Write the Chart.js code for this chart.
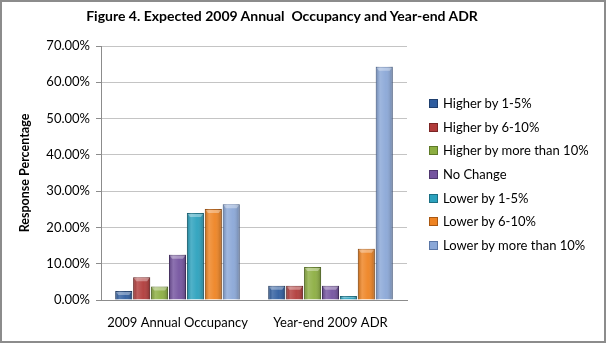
<!DOCTYPE html>
<html>
<head>
<meta charset="utf-8">
<script src="https://cdn.jsdelivr.net/npm/chart.js@4/dist/chart.umd.min.js"></script>
<style>
  html, body { margin: 0; padding: 0; background: #fff; }
  #wrap { position: relative; width: 602px; height: 339px; border: 2px solid #8c8c8c; font-family: Lato, "Open Sans", sans-serif; }
  canvas { display: block; }
  #title { position: absolute; left: 0; width: 560px; top: 5px; text-align: center; font-size: 14px; font-weight: bold; color: #000; white-space: pre; }
  #legend { position: absolute; left: 427px; top: 92px; margin: 0; padding: 0; list-style: none; font-size: 13px; color: #000; }
  #legend li { height: 23.7px; line-height: 18px; white-space: nowrap; }
  #legend span { display: inline-block; width: 7px; height: 7px; margin-right: 5px; vertical-align: 0px; border: 1px solid; }
</style>
</head>
<body>
<div id="wrap">
  <canvas id="adrChart" width="602" height="339"></canvas>
  <div id="title">Figure 4. Expected 2009 Annual  Occupancy and Year-end ADR</div>
  <ul id="legend"></ul>
</div>
<script>
const categories = ["2009 Annual Occupancy", "Year-end 2009 ADR"];
const seriesNames = [
  "Higher by 1-5%",
  "Higher by 6-10%",
  "Higher by more than 10%",
  "No Change",
  "Lower by 1-5%",
  "Lower by 6-10%",
  "Lower by more than 10%"
];
// percent of responses, one pair per series (occupancy, ADR)
const higher1to5 = [2.5, 3.9];
const higher6to10 = [6.3, 3.9];
const higherOver10 = [3.7, 9.1];
const noChange = [12.5, 3.9];
const lower1to5 = [24.0, 1.1];
const lower6to10 = [25.1, 14.1];
const lowerOver10 = [26.4, 64.3];
const yTicks = [0, 10, 20, 30, 40, 50, 60, 70];

const seriesValues = [higher1to5, higher6to10, higherOver10, noChange, lower1to5, lower6to10, lowerOver10];
const fills = ["#2f5d9f", "#b13b3a", "#8cae41", "#74539f", "#2ba1bd", "#ee8322", "#8aa7d7"];
const edges = ["#1f3f6e", "#7a2524", "#5e7a28", "#4f376f", "#1b6f83", "#a95812", "#5a76a6"];

function el(id) {
  return document.getElementById(id);
}

// shading overlay so the bars look bevelled
const bevelPlugin = {
  id: "bevel",
  afterDatasetsDraw(chart) {
    const ctx = chart.ctx;
    chart.data.datasets.forEach((ds, i) => {
      const meta = chart.getDatasetMeta(i);
      meta.data.forEach(bar => {
        const { x, y, width, base } = bar.getProps(["x", "y", "width", "base"], true);
        const l = x - width / 2, h = base - y;
        if (h <= 0) return;
        const g = ctx.createLinearGradient(l, 0, l + width, 0);
        g.addColorStop(0, "rgba(0,0,0,0.18)");
        g.addColorStop(0.25, "rgba(255,255,255,0.18)");
        g.addColorStop(0.6, "rgba(255,255,255,0.05)");
        g.addColorStop(1, "rgba(0,0,0,0.25)");
        ctx.save();
        ctx.fillStyle = g;
        ctx.fillRect(l, y, width, h);
        // light cap at the top
        const cap = Math.min(4, h / 2);
        ctx.fillStyle = "rgba(255,255,255,0.35)";
        ctx.beginPath();
        ctx.moveTo(l + 1, y + 1);
        ctx.lineTo(l + width - 1, y + 1);
        ctx.lineTo(l + width - 3, y + cap);
        ctx.lineTo(l + 3, y + cap);
        ctx.closePath();
        ctx.fill();
        ctx.restore();
      });
    });
  }
};

function buildLegend() {
  const ul = el("legend");
  seriesNames.forEach((name, i) => {
    const li = document.createElement("li");
    const sw = document.createElement("span");
    sw.style.background = fills[i];
    sw.style.borderColor = edges[i];
    li.appendChild(sw);
    li.appendChild(document.createTextNode(name));
    ul.appendChild(li);
  });
}

function drawChart() {
  const font = "Lato, 'Open Sans', sans-serif";
  new Chart(el("adrChart"), {
    type: "bar",
    data: {
      labels: categories,
      datasets: seriesNames.map((name, i) => ({
        label: name,
        data: seriesValues[i],
        backgroundColor: fills[i],
        borderColor: edges[i],
        borderWidth: 1,
        borderSkipped: "bottom",
        categoryPercentage: 0.82,
        barPercentage: 0.95
      }))
    },
    options: {
      responsive: false,
      animation: false,
      layout: { padding: { left: 0, right: 197, top: 44, bottom: 8 } },
      plugins: {
        legend: { display: false },
        tooltip: { enabled: false }
      },
      scales: {
        x: {
          afterFit: axis => { axis.height = 33; },
          grid: { display: false, drawTicks: false },
          border: { color: "#8c8c8c" },
          ticks: { color: "#000", font: { family: font, size: 13 }, padding: 15 }
        },
        y: {
          min: 0,
          max: 70,
          afterFit: axis => { axis.width = 99; },
          afterBuildTicks: axis => { axis.ticks = yTicks.map(v => ({ value: v })); },
          grid: { color: "#c4c4c4", lineWidth: 1, tickLength: 5, tickColor: "#8c8c8c" },
          border: { color: "#8c8c8c" },
          ticks: {
            color: "#000",
            font: { family: font, size: 13 },
            padding: 6,
            callback: v => v.toFixed(2) + "%"
          },
          title: {
            display: true,
            text: "Response Percentage",
            color: "#000",
            font: { family: font, size: 12.5, weight: "bold" },
            padding: { top: 15, bottom: 0 }
          }
        }
      }
    },
    plugins: [bevelPlugin]
  });
}

window.addEventListener("load", () => {
  buildLegend();
  drawChart();
});
</script>
</body>
</html>
